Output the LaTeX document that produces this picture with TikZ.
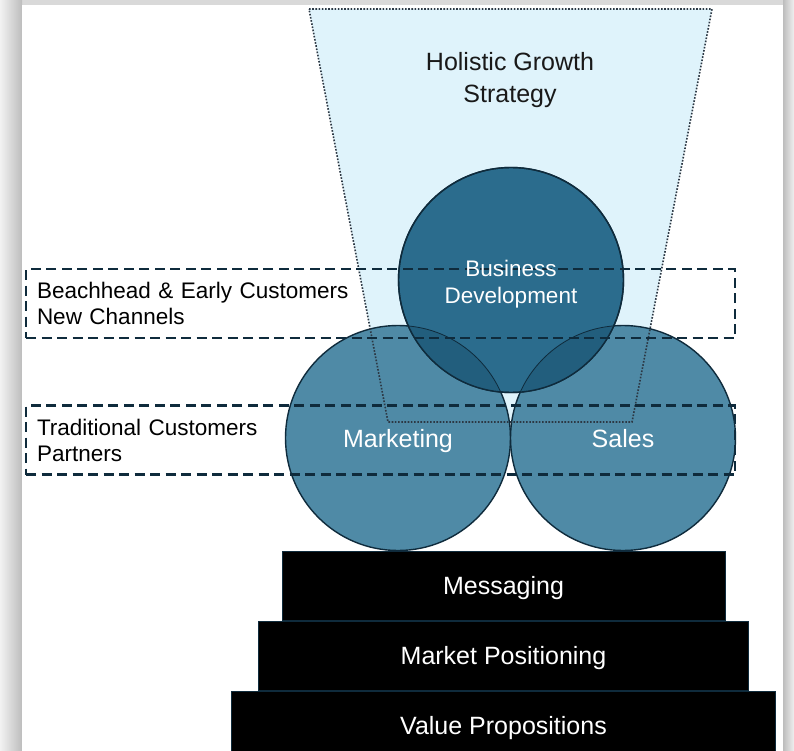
\documentclass[tikz,border=0pt]{standalone}
\usepackage{fontspec}
\setmainfont{Liberation Sans}
\usetikzlibrary{positioning}
\definecolor{bdblue}{HTML}{2B6C8D}
\definecolor{ringblue}{HTML}{4F8AA6}
\definecolor{lapblue}{HTML}{225E7D}
\definecolor{funnel}{HTML}{DFF3FB}
\definecolor{navy}{HTML}{0F2B3C}
\definecolor{dotgray}{HTML}{2C3844}
\tikzset{ringnode/.style={circle, draw=navy, line width=1.4pt, minimum size=225pt, inner sep=0pt,
  text=white, text depth=0pt, align=center, font=\fontsize{25}{30}\selectfont},
  bandbox/.style={draw=navy, line width=2.1pt, dash pattern=on 10pt off 5.5pt, minimum height=69pt,
  inner xsep=11pt, text width=687pt, align=left, font=\fontsize{22.5}{26}\selectfont},
  stepbox/.style={fill=black, draw=navy, line width=1pt, minimum height=69pt, inner sep=0pt,
  text=white, text depth=0pt, font=\fontsize{25}{30}\selectfont}}

\begin{document}
\begin{tikzpicture}[x=1pt, y=-1pt]
\clip (0,0) rectangle (794,751);

%frame and shadow
\fill[gray!30] (0,0) rectangle (794,751);
\shade[left color=gray!10, right color=gray!52] (0,0) rectangle (22,751);
\shade[left color=gray!52, right color=gray!12] (783,0) rectangle (794,751);
\fill[white] (22,5) rectangle (783,751);

%funnel
\coordinate (ftl) at (309,9);
\coordinate (ftr) at (712,9);
\coordinate (fbr) at (632,422);
\coordinate (fbl) at (388,422);
\fill[funnel] (ftl) -- (ftr) -- (fbr) -- (fbl) -- cycle;

%circles
\node[ringnode, fill=ringblue] (mkt) at (398,438) {Marketing};
\node[ringnode, fill=ringblue] (sal) at (623,438) {Sales};
\node[ringnode, fill=bdblue] (bd) at (511,280) {};
\begin{scope}
\clip (bd.center) circle[radius=112.5];
\fill[lapblue] (mkt.center) circle[radius=112.5] (sal.center) circle[radius=112.5];
\draw[navy, line width=.8pt] (mkt.center) circle[radius=112.5] (sal.center) circle[radius=112.5];
\end{scope}
\draw[navy, line width=1.4pt] (bd.center) circle[radius=112.5];

\draw[dotgray, line width=1.6pt, dash pattern=on 1.6pt off 1.6pt] (ftl) -- (ftr) -- (fbr) -- (fbl) -- cycle;
\node[font=\fontsize{25}{32}\selectfont, text=black!90, align=center] (goal) at (510,80) {Holistic Growth\\Strategy};

%bands
\node[bandbox] (early) at (380.5,303.5) {Beachhead \& Early Customers\\New Channels};
\node[bandbox] (trad) at (380.5,440) {Traditional Customers\\Partners};
\node[text=white, align=center, font=\fontsize{22.5}{27}\selectfont] (bdlabel) at (511,284) {Business\\Development};

%steps
\node[stepbox, minimum width=443pt] (msg) at (503.5,585.5) {Messaging};
\node[stepbox, minimum width=490pt, below=0pt of msg] (pos) {Market Positioning};
\node[stepbox, minimum width=544pt, below=0pt of pos] (val) {Value Propositions};

\end{tikzpicture}
\end{document}
